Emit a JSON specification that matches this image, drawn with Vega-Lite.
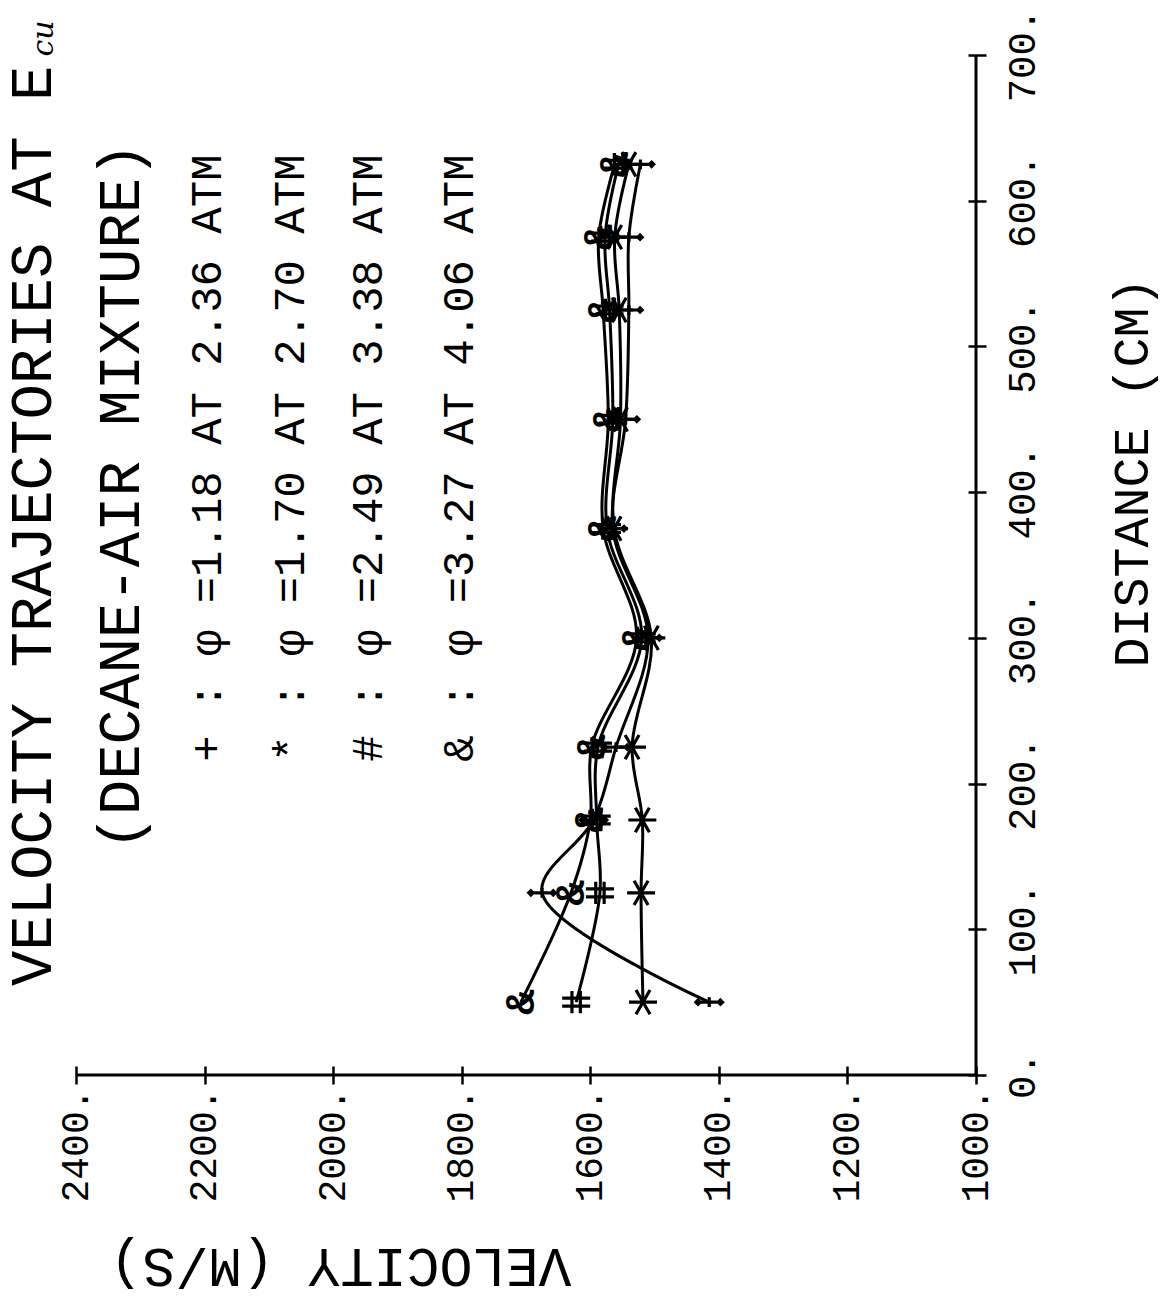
{
  "$schema": "https://vega.github.io/schema/vega-lite/v6.json",
  "width": 900,
  "height": 1020,
  "autosize": {"type": "none"},
  "padding": {"left": 76, "top": 55, "right": 188, "bottom": 225},
  "background": "white",
  "config": {"view": {"stroke": null}, "font": "Liberation Mono"},
  "datasets": {
    "runs": [
      {"series": "+", "dist": 50, "vel": 1415},
      {"series": "+", "dist": 125, "vel": 1675},
      {"series": "+", "dist": 175, "vel": 1595},
      {"series": "+", "dist": 225, "vel": 1560},
      {"series": "+", "dist": 300, "vel": 1510},
      {"series": "+", "dist": 375, "vel": 1565},
      {"series": "+", "dist": 450, "vel": 1545},
      {"series": "+", "dist": 525, "vel": 1540},
      {"series": "+", "dist": 575, "vel": 1540},
      {"series": "+", "dist": 625, "vel": 1522},
      {"series": "*", "dist": 50, "vel": 1518},
      {"series": "*", "dist": 125, "vel": 1521},
      {"series": "*", "dist": 175, "vel": 1519},
      {"series": "*", "dist": 225, "vel": 1535},
      {"series": "*", "dist": 300, "vel": 1505},
      {"series": "*", "dist": 375, "vel": 1563},
      {"series": "*", "dist": 450, "vel": 1553},
      {"series": "*", "dist": 525, "vel": 1555},
      {"series": "*", "dist": 575, "vel": 1562},
      {"series": "*", "dist": 625, "vel": 1540},
      {"series": "#", "dist": 50, "vel": 1622},
      {"series": "#", "dist": 125, "vel": 1585},
      {"series": "#", "dist": 175, "vel": 1590},
      {"series": "#", "dist": 225, "vel": 1588},
      {"series": "#", "dist": 300, "vel": 1520},
      {"series": "#", "dist": 375, "vel": 1574},
      {"series": "#", "dist": 450, "vel": 1565},
      {"series": "#", "dist": 525, "vel": 1570},
      {"series": "#", "dist": 575, "vel": 1577},
      {"series": "#", "dist": 625, "vel": 1556},
      {"series": "&", "dist": 50, "vel": 1708},
      {"series": "&", "dist": 125, "vel": 1630},
      {"series": "&", "dist": 175, "vel": 1600},
      {"series": "&", "dist": 225, "vel": 1598},
      {"series": "&", "dist": 300, "vel": 1528},
      {"series": "&", "dist": 375, "vel": 1580},
      {"series": "&", "dist": 450, "vel": 1572},
      {"series": "&", "dist": 525, "vel": 1580},
      {"series": "&", "dist": 575, "vel": 1587},
      {"series": "&", "dist": 625, "vel": 1562}
    ],
    "frame": [
      {"vel": 1000, "vel2": 1000, "dist": 0, "dist2": 700},
      {"vel": 1000, "vel2": 2400, "dist": 0, "dist2": 0}
    ],
    "heading": [
      {"label": "VELOCITY TRAJECTORIES AT E", "vel": 2467, "dist": 61},
      {"label": "(DECANE-AIR MIXTURE)", "vel": 2330, "dist": 154}
    ],
    "subscript": [
      {"label": "cu", "vel": 2450, "dist": 699}
    ],
    "key": [
      {"label": "+ : φ =1.18 AT 2.36 ATM", "vel": 2195, "dist": 215},
      {"label": "* : φ =1.70 AT 2.70 ATM", "vel": 2066, "dist": 215},
      {"label": "# : φ =2.49 AT 3.38 ATM", "vel": 1945, "dist": 215},
      {"label": "& : φ =3.27 AT 4.06 ATM", "vel": 1802, "dist": 215}
    ]
  },
  "encoding": {
    "x": {
      "field": "vel",
      "type": "quantitative",
      "scale": {"domain": [1000, 2400], "reverse": true, "nice": false, "zero": false},
      "axis": {
        "orient": "bottom",
        "offset": -9,
        "domain": false,
        "values": [1000, 1200, 1400, 1600, 1800, 2000, 2200, 2400],
        "format": "d",
        "labelExpr": "datum.label + '.'",
        "labelAngle": 270,
        "labelFont": "Liberation Mono",
        "labelFontSize": 38,
        "labelColor": "black",
        "labelPadding": 4,
        "labelFlush": false,
        "labelOverlap": false,
        "tickSize": 18,
        "tickWidth": 2.5,
        "tickColor": "black",
        "grid": false,
        "title": "VELOCITY (M/S)",
        "titleFont": "Liberation Mono",
        "titleFontSize": 55,
        "titleFontWeight": "normal",
        "titleColor": "black",
        "titleAngle": 180,
        "titleAlign": "center",
        "titleBaseline": "middle",
        "titleX": 264,
        "titleY": 199
      }
    },
    "y": {
      "field": "dist",
      "type": "quantitative",
      "scale": {"domain": [0, 700], "nice": false, "zero": false},
      "axis": {
        "orient": "right",
        "offset": -8,
        "domain": false,
        "values": [0, 100, 200, 300, 400, 500, 600, 700],
        "format": "d",
        "labelExpr": "datum.label + '.'",
        "labelAngle": 270,
        "labelAlign": "center",
        "labelBaseline": "top",
        "labelFont": "Liberation Mono",
        "labelFontSize": 39,
        "labelColor": "black",
        "labelPadding": 17,
        "labelFlush": false,
        "labelOverlap": false,
        "tickSize": 18,
        "tickWidth": 2.5,
        "tickColor": "black",
        "grid": false,
        "title": "DISTANCE (CM)",
        "titleFont": "Liberation Mono",
        "titleFontSize": 50,
        "titleFontWeight": "normal",
        "titleColor": "black",
        "titleAngle": 270,
        "titleAlign": "center",
        "titleBaseline": "middle",
        "titleX": 164,
        "titleY": 417
      }
    }
  },
  "layer": [
    {
      "data": {"name": "frame"},
      "mark": {"type": "rule", "stroke": "black", "strokeWidth": 3},
      "encoding": {
        "x2": {"field": "vel2"},
        "y2": {"field": "dist2"}
      }
    },
    {
      "data": {"name": "runs"},
      "mark": {"type": "line", "interpolate": "catmull-rom", "stroke": "black", "strokeWidth": 3},
      "encoding": {
        "detail": {"field": "series", "type": "nominal"},
        "order": {"field": "dist", "type": "quantitative"}
      }
    },
    {
      "data": {"name": "runs"},
      "transform": [{"filter": "datum.series !== '&'"}],
      "mark": {"type": "point", "filled": false, "stroke": "black", "strokeWidth": 3.2, "size": 784, "opacity": 1},
      "encoding": {
        "shape": {
          "field": "series",
          "type": "nominal",
          "legend": null,
          "scale": {
            "domain": ["+", "*", "#"],
            "range": [
              "M-0.8,0L0.8,0M0,-0.35L0,0.35M-0.8,-0.15L-0.65,0L-0.8,0.15L-0.95,0ZM0.8,-0.15L0.95,0L0.8,0.15L0.65,0Z",
              "M-1,0L1,0M-0.5,-0.87L0.5,0.87M-0.5,0.87L0.5,-0.87",
              "M-1,-0.28L1,-0.28M-1,0.28L1,0.28M-0.3,-0.8L-0.3,0.8M0.3,-0.8L0.3,0.8"
            ]
          }
        }
      }
    },
    {
      "data": {"name": "runs"},
      "transform": [{"filter": "datum.series === '&'"}],
      "mark": {"type": "text", "text": "&", "angle": 270, "align": "center", "baseline": "middle", "font": "Liberation Mono", "fontSize": 42, "fontWeight": "bold", "color": "black"}
    },
    {
      "data": {"name": "heading"},
      "mark": {"type": "text", "angle": 270, "align": "left", "baseline": "middle", "font": "Liberation Mono", "fontSize": 59, "color": "black"},
      "encoding": {"text": {"field": "label", "type": "nominal"}}
    },
    {
      "data": {"name": "subscript"},
      "mark": {"type": "text", "angle": 270, "align": "left", "baseline": "middle", "font": "DejaVu Serif", "fontStyle": "italic", "fontSize": 30, "color": "black"},
      "encoding": {"text": {"field": "label", "type": "nominal"}}
    },
    {
      "data": {"name": "key"},
      "mark": {"type": "text", "angle": 270, "align": "left", "baseline": "middle", "font": "Liberation Mono", "fontSize": 44, "color": "black"},
      "encoding": {"text": {"field": "label", "type": "nominal"}}
    }
  ]
}
